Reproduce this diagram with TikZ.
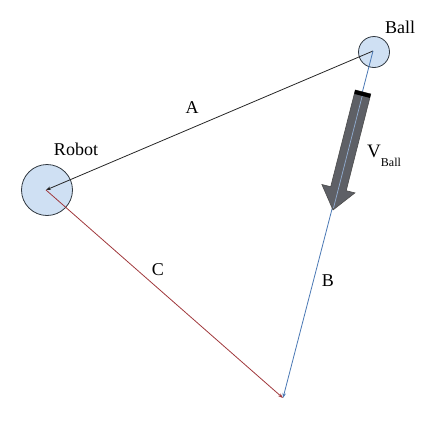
\documentclass[tikz,border=0pt]{standalone}
\usepackage{fontspec}
\setmainfont{Liberation Serif}
\usetikzlibrary{arrows.meta}
\definecolor{discfill}{HTML}{CFE0F3}
\definecolor{discline}{HTML}{303840}
\definecolor{cline}{HTML}{A0383C}
\definecolor{bline}{HTML}{4A78B4}
\definecolor{arrowgray}{HTML}{5E6066}
\tikzset{
  disc/.style={circle, draw=discline, fill=discfill, line width=0.8pt, inner sep=0pt},
  lbl/.style={font=\fontsize{18}{21}\selectfont, inner sep=0pt},
  vec/.style={line width=0.8pt, -{Stealth[length=5pt,width=3.5pt]}}
}
\begin{document}
\begin{tikzpicture}[x=1pt,y=-1pt]
\useasboundingbox (0,0) rectangle (434,424);
\node[disc, minimum size=51pt] (robot) at (47,190) {};
\node[disc, minimum size=31pt] (ball) at (374,52) {};
\coordinate (rc) at (46,190);
\coordinate (bc) at (373,51);
\coordinate (end) at (283,398);
% connectors
\draw[vec, draw=black!85] (bc) -- (rc);
\draw[vec, draw=cline] (rc) -- (end);
\draw[vec, draw=bline] (bc) -- (end);
% velocity arrow
\fill[arrowgray, draw=black!70, line width=0.6pt]
  (355.3,90.0) -- (370.8,94.0) -- (346.2,190.7) -- (354.9,192.9)
  -- (333,210) -- (321.9,184.5) -- (330.7,186.7) -- cycle;
\fill[black] (355.3,90.0) -- (370.8,94.0) -- (369.8,97.9) -- (354.3,93.9) -- cycle;
\draw[bline!60, line width=0.7pt] (362.2,96) -- (333.5,208);
% labels
\node[lbl] (tball) at (400,27) {Ball};
\node[lbl] (trobot) at (76,149) {Robot};
\node[lbl] (ta) at (192,108) {A};
\node[lbl] (tc) at (158,270) {C};
\node[lbl] (tb) at (328,281) {B};
\node[lbl, anchor=base west, font=\fontsize{19}{22}\selectfont] (tv) at (367,157) {V\raisebox{-1.1ex}{\fontsize{12}{14}\selectfont Ball}};
\end{tikzpicture}
\end{document}
